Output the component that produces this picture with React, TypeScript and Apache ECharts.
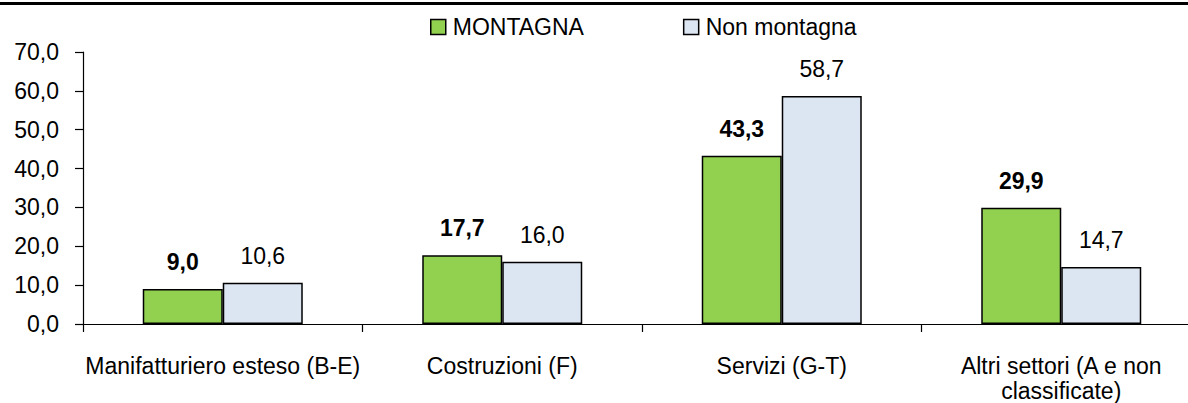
import React, { useEffect, useRef } from "react";
import * as echarts from "echarts";

const categories = [
  "Manifatturiero esteso (B-E)",
  "Costruzioni (F)",
  "Servizi (G-T)",
  "Altri settori (A e non\nclassificate)",
];
const montagna = [9.0, 17.7, 43.3, 29.9];
const nonMontagna = [10.6, 16.0, 58.7, 14.7];
const seriesNames = ["MONTAGNA", "Non montagna"];

const FONT = '"Liberation Sans", Arial, sans-serif';
const FS = 23;
const fmt = (v: number) => v.toFixed(1).replace(".", ",");

export default function App() {
  const ref = useRef<HTMLDivElement>(null);
  useEffect(() => {
    if (!ref.current) return;
    const chart = echarts.init(ref.current, undefined, { renderer: "svg" });
    chart.setOption({
      animation: false,
      backgroundColor: "#ffffff",
      textStyle: { fontFamily: FONT },
      graphic: [
        { type: "rect", left: 0, top: 2, shape: { x: 0, y: 0, width: 1188, height: 3 }, style: { fill: "#000" } },
      ],
      legend: {
        left: 430,
        top: 13,
        padding: 0,
        icon: "rect",
        itemWidth: 15,
        itemHeight: 15,
        itemGap: 99,
        data: seriesNames,
        textStyle: { fontFamily: FONT, fontSize: FS, color: "#000", lineHeight: 28, padding: [0, 0, 0, 2] },
        itemStyle: { borderColor: "#000", borderWidth: 1.5 },
      },
      grid: { left: 83, right: -13, top: 52, bottom: 79, containLabel: false, outerBoundsMode: "none" },
      xAxis: {
        type: "category",
        data: categories,
        axisLine: { lineStyle: { color: "#000", width: 1.2 } },
        axisTick: { show: true, length: 8, interval: 0, alignWithLabel: false, lineStyle: { color: "#000", width: 1.2 } },
        axisLabel: { interval: 0, color: "#000", fontFamily: FONT, fontSize: FS, lineHeight: 25, margin: 29 },
      },
      yAxis: {
        type: "value",
        min: 0,
        max: 70,
        interval: 10,
        splitLine: { show: false },
        axisLine: { show: true, lineStyle: { color: "#000", width: 1.2 } },
        axisTick: { show: true, length: 8, lineStyle: { color: "#000", width: 1.2 } },
        axisLabel: { color: "#000", fontFamily: FONT, fontSize: FS, margin: 24, formatter: (v: number) => fmt(v) },
      },
      series: [
        {
          name: seriesNames[0],
          type: "bar",
          data: montagna,
          barWidth: 80,
          barGap: "0%",
          itemStyle: { color: "#92D050", borderColor: "#000", borderWidth: 1.5 },
          label: {
            show: true,
            position: "top",
            distance: 13,
            color: "#000",
            fontFamily: FONT,
            fontSize: FS,
            fontWeight: "bold",
            lineHeight: 28,
            formatter: (p: any) => fmt(p.value),
          },
        },
        {
          name: seriesNames[1],
          type: "bar",
          data: nonMontagna,
          barWidth: 80,
          barGap: "0%",
          itemStyle: { color: "#DCE6F2", borderColor: "#000", borderWidth: 1.5 },
          label: {
            show: true,
            position: "top",
            distance: 13,
            color: "#000",
            fontFamily: FONT,
            fontSize: FS,
            lineHeight: 28,
            formatter: (p: any) => fmt(p.value),
          },
        },
      ],
    });
    return () => chart.dispose();
  }, []);
  return <div ref={ref} style={{ position: "absolute", left: 0, top: 0, width: 1188, height: 403 }} />;
}
